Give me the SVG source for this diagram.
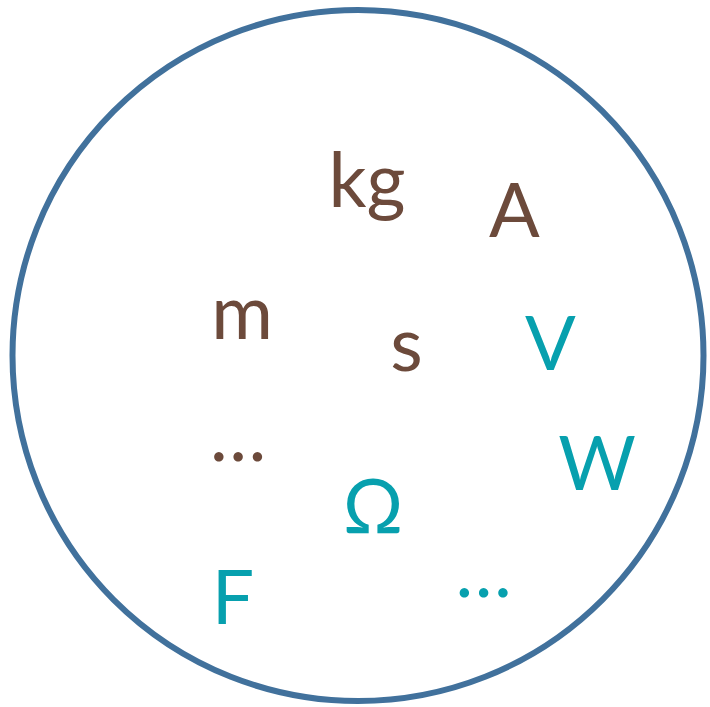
<svg xmlns="http://www.w3.org/2000/svg" width="710" height="707" viewBox="0 0 710 707">
<style>
.t{font-family:Lato,"Open Sans","Liberation Sans",sans-serif;font-size:75px;text-anchor:middle}
.b{fill:#6C4A3B}
.c{fill:#07A0AE}
</style>
<rect width="710" height="707" fill="#fff"/>
<g id="circle"><circle cx="358" cy="355.5" r="345.5" fill="none" stroke="#41719C" stroke-width="6"/></g>
<g id="kg"><text class="t b" x="367" y="207">kg</text></g>
<g id="A"><text class="t b" x="514.5" y="237">A</text></g>
<g id="m"><text class="t b" x="242" y="339">m</text></g>
<g id="s"><text class="t b" x="406.5" y="371">s</text></g>
<g id="V"><text class="t c" x="550.5" y="370">V</text></g>
<g id="W"><text class="t c" x="597" y="490">W</text></g>
<g id="dots1"><text class="t b" x="238" y="461">…</text></g>
<g id="Omega"><text class="t c" x="373" y="533">Ω</text></g>
<g id="F"><text class="t c" x="233" y="624">F</text></g>
<g id="dots2"><text class="t c" x="483.5" y="597">…</text></g>
</svg>
